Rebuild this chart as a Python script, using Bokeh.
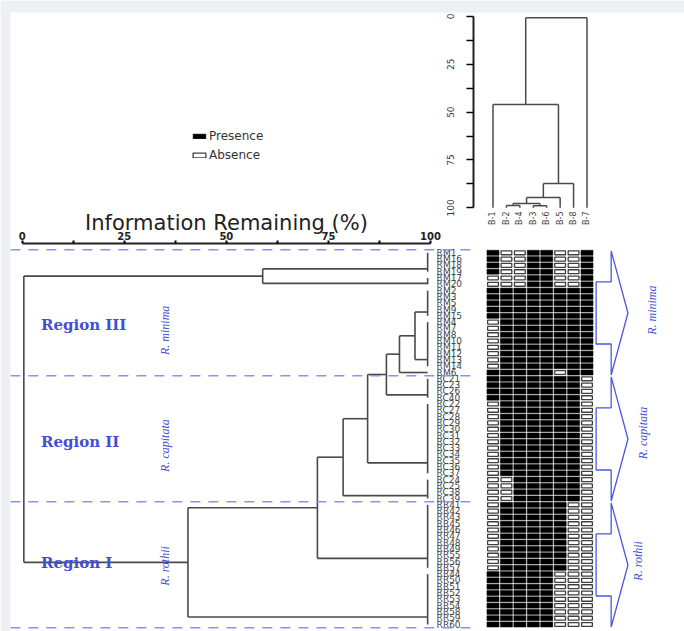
import math
from bokeh.plotting import figure
from bokeh.models import Range1d, LinearAxis, FixedTicker, Legend, LegendItem, BoxAnnotation
from bokeh.core.properties import value
from bokeh.embed import file_html
from bokeh.resources import INLINE

# ---------------- data ----------------
leaf_labels = ["RM1", "RM16", "RM18", "RM19", "RM17", "RM20", "RM2", "RM3", "RM5", "RM9", "RM15",
               "RM4", "RM7", "RM8", "RM10", "RM11", "RM12", "RM13", "RM14", "RM6",
               "RC21", "RC23", "RC26", "RC40", "RC22", "RC27", "RC28", "RC29", "RC30", "RC31",
               "RC32", "RC33", "RC34", "RC35", "RC36", "RC37", "RC24", "RC25", "RC38", "RC39",
               "RR41", "RR42", "RR43", "RR45", "RR46", "RR47", "RR48", "RR49", "RR55", "RR56", "RR57",
               "RR44", "RR50", "RR51", "RR52", "RR53", "RR54", "RR58", "RR59", "RR60"]
band_labels = ["B-1", "B-2", "B-4", "B-3", "B-6", "B-5", "B-8", "B-7"]

# groups of samples with identical band profiles: (first row, last row) and profile
group_rows = [(0, 3), (4, 5), (6, 10), (11, 18), (19, 19), (20, 23), (24, 35), (36, 39), (40, 50), (51, 59)]
group_profiles = ["10011001", "00011001", "11111111", "01111111", "11111011",
                  "11111110", "01111110", "00111110", "01111100", "11111000"]

# sample dendrogram: (node a, node b, information remaining %); nodes 0-9 are the groups
sample_merges = [(0, 1, 58.9), (2, 3, 96.2), (11, 4, 92.4), (12, 5, 89.2), (13, 6, 84.6),
                 (14, 7, 78.6), (15, 8, 72.3), (16, 9, 40.6), (10, 17, 0.4)]
sample_leaf_level = 99.3

# band dendrogram: nodes 0-7 are the bands in display order
band_merges = [(1, 2, 98.8), (3, 4, 98.9), (8, 9, 97.7), (10, 5, 94.6), (11, 6, 87.3),
               (0, 12, 46.0), (13, 7, 0.7)]
band_leaf_level = 100.0

species = ["R. minima", "R. capitata", "R. rothii"]
regions = ["Region III", "Region II", "Region I"]
species_rows = [(0, 19), (20, 39), (40, 59)]

axis_ticks = [0, 25, 50, 75, 100]
axis_minor = [12.5, 37.5, 62.5, 87.5]
legend_labels = ["Presence", "Absence"]
axis_title = "Information Remaining (%)"

# ---------------- styles ----------------
BLUE = "#3f4fd6"
DASH_BLUE = "#8c92ea"
LINE = "#4a4a4a"

W, H = 684, 631
p = figure(width=W, height=H, output_backend="svg", toolbar_location=None,
           x_range=Range1d(-5.315, 162.21), y_range=Range1d(60.11, -40.05),
           x_axis_location=None, y_axis_location=None, min_border=0, title=None)
p.extra_x_ranges = {"cols": Range1d(-36.67, 14.26)}
p.extra_y_ranges = {"topd": Range1d(321.5, -8.36)}
p.outline_line_color = None
p.xgrid.visible = False
p.ygrid.visible = False
p.background_fill_color = "white"
p.border_fill_color = "white"

# page-like grey strips along the top and left edges
p.add_layout(BoxAnnotation(bottom=-38.15, fill_color="#eff0f3", fill_alpha=1, line_color=None))
p.add_layout(BoxAnnotation(right=-2.87, fill_color="#eff0f3", fill_alpha=1, line_color=None))


def dendrogram(leaf_pos, leaf_h, merges):
    pos = list(leaf_pos)
    hts = [leaf_h] * len(leaf_pos)
    segs = []
    for a, b, m in merges:
        for c in (a, b):
            segs.append((m, pos[c], hts[c], pos[c]))
        segs.append((m, pos[a], m, pos[b]))
        pos.append((pos[a] + pos[b]) / 2.0)
        hts.append(m)
    return segs


# ---- main (sample) dendrogram ----
leaf_pos = [f + 0.85 * (l - f) for f, l in group_rows]
segs = dendrogram(leaf_pos, sample_leaf_level, sample_merges)
for f, l in group_rows:
    if l > f:
        segs.append((sample_leaf_level, f, sample_leaf_level, l))
p.segment(x0=[s[0] for s in segs], y0=[s[1] for s in segs],
          x1=[s[2] for s in segs], y1=[s[3] for s in segs],
          line_color=LINE, line_width=1.6)

# ---- band dendrogram ----
bsegs = dendrogram(list(range(len(band_labels))), band_leaf_level, band_merges)
p.segment(x0=[s[1] for s in bsegs], y0=[s[0] for s in bsegs],
          x1=[s[3] for s in bsegs], y1=[s[2] for s in bsegs],
          line_color=LINE, line_width=1.5, x_range_name="cols", y_range_name="topd")
p.text(x=list(range(len(band_labels))), y=[band_leaf_level + 1.9] * len(band_labels),
       text=band_labels, angle=math.pi / 2, text_align="right", text_baseline="middle",
       text_font=value("DejaVu Sans"), text_font_size="8px", text_color="#444",
       x_range_name="cols", y_range_name="topd")

# ---- presence / absence matrix ----
px, py, ax_, ay_ = [], [], [], []
for (f, l), prof in zip(group_rows, group_profiles):
    for r in range(f, l + 1):
        for c, ch in enumerate(prof):
            if ch == "1":
                px.append(c); py.append(r)
            else:
                ax_.append(c); ay_.append(r)
r_pres = p.rect(x=px, y=py, width=0.9, height=0.8, fill_color="black", line_color="black",
                line_width=0.5, x_range_name="cols")
r_abs = p.rect(x=ax_, y=ay_, width=0.8, height=0.62, fill_color="white", line_color="#404040",
               line_width=1.3, x_range_name="cols")

# ---- leaf labels ----
p.text(x=[sample_leaf_level + 2.2] * len(leaf_labels), y=list(range(len(leaf_labels))),
       text=leaf_labels, text_align="left", text_baseline="middle",
       text_font=value("DejaVu Sans"), text_font_size="9px", text_color="#444")

# ---- dashed region separators ----
bounds = [f - 0.5 for f, l in species_rows] + [species_rows[-1][1] + 0.5]
p.segment(x0=[-2.9] * len(bounds), y0=bounds, x1=[110.3] * len(bounds), y1=bounds,
          line_color=DASH_BLUE, line_width=1.5, line_dash="10 8")

# ---- region and species labels (left) ----
centers = [(f + l) / 2.0 for f, l in species_rows]
p.text(x=[4.6] * 3, y=[centers[0] + 1.9, centers[1] + 0.5, centers[2] - 0.2], text=regions,
       text_align="left", text_baseline="middle", text_font=value("DejaVu Serif"),
       text_font_style="bold", text_font_size="15px", text_color=BLUE)
p.text(x=[34.9] * 3, y=[centers[0] + 2.8, centers[1] + 1.1, centers[2] + 0.2], text=species,
       angle=math.pi / 2, text_align="center", text_baseline="middle",
       text_font=value("Liberation Serif"), text_font_style="italic", text_font_size="12px",
       text_color=BLUE)

# ---- braces and species labels (right) ----
bx, by = [], []
base, inner, tip = 8.8, 7.68, 10.05
for f, l in species_rows:
    top, bot = f - 0.3, l + 0.4
    span = bot - top
    q1, mid, q3 = top + span / 4, top + span / 2, top + 3 * span / 4
    bx.append([base, base, inner, inner, base, base, tip, base])
    by.append([top, q1, q1, q3, q3, bot, mid, top])
p.multi_line(xs=bx, ys=by, line_color="#4a5ae0", line_width=1.3, x_range_name="cols")
p.text(x=[11.85, 11.2, 10.83], y=[centers[0] - 0.4, centers[1] - 0.9, centers[2] - 0.6],
       text=species, angle=math.pi / 2, text_align="center", text_baseline="middle",
       text_font=value("Liberation Serif"), text_font_style="italic", text_font_size="12px",
       text_color=BLUE, x_range_name="cols")

# ---- axes ----
ax = LinearAxis(fixed_location=-1.43, bounds=(0, 100),
                ticker=FixedTicker(ticks=axis_ticks, minor_ticks=axis_minor),
                axis_label=axis_title)
ax.axis_line_width = 2
ax.axis_line_color = "#222"
ax.major_tick_out = 3
ax.major_tick_in = 0
ax.minor_tick_out = 3
ax.minor_tick_in = 0
ax.major_tick_line_width = 2
ax.minor_tick_line_width = 2
ax.major_label_text_font = "DejaVu Sans"
ax.major_label_text_font_size = "10px"
ax.major_label_text_font_style = "bold"
ax.major_label_text_color = "#222"
ax.major_label_standoff = 1
ax.axis_label_text_font = "DejaVu Sans"
ax.axis_label_text_font_size = "21px"
ax.axis_label_text_font_style = "normal"
ax.axis_label_text_color = "#222"
ax.axis_label_standoff = -6
p.add_layout(ax, "above")

ay = LinearAxis(y_range_name="topd", x_range_name="cols", fixed_location=-1.43, bounds=(0, 100),
                ticker=FixedTicker(ticks=axis_ticks, minor_ticks=axis_minor))
ay.axis_line_width = 2
ay.axis_line_color = "#222"
ay.major_tick_out = 7
ay.major_tick_in = 0
ay.minor_tick_out = 7
ay.minor_tick_in = 0
ay.major_tick_line_width = 1.5
ay.minor_tick_line_width = 1.5
ay.major_label_orientation = "vertical"
ay.major_label_text_font = "DejaVu Sans"
ay.major_label_text_font_size = "9px"
ay.major_label_text_color = "#333"
ay.major_label_standoff = 13
p.add_layout(ay, "left")

# ---- legend ----
legend = Legend(items=[LegendItem(label=legend_labels[0], renderers=[r_pres]),
                       LegendItem(label=legend_labels[1], renderers=[r_abs])],
                location=(191, 469), orientation="vertical", padding=0, margin=0,
                glyph_width=16, glyph_height=6, label_height=12, spacing=5,
                label_standoff=2, label_text_font="DejaVu Sans", label_text_font_size="12px",
                label_text_color="#333", border_line_color=None, background_fill_alpha=0)
p.add_layout(legend)

open("out.html", "w").write(file_html(p, INLINE))
